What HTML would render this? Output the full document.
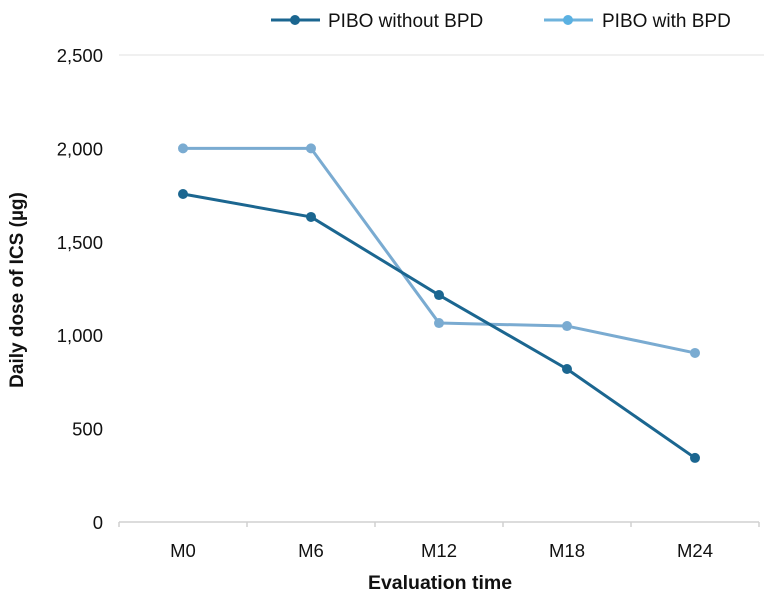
<!DOCTYPE html>
<html><head><meta charset="utf-8"><style>
body{margin:0;background:#fff;font-family:"Liberation Sans",Arial,sans-serif}
</style></head><body>
<svg id="chart" width="764" height="601" viewBox="0 0 764 601" xmlns="http://www.w3.org/2000/svg" font-family="Liberation Sans, Arial, sans-serif">
<g id="legend">
  <g>
    <line x1="271" y1="20" x2="320" y2="20" stroke="#1b6690" stroke-width="3"/>
    <circle cx="295" cy="20" r="5" fill="#1b6690"/>
    <text x="328" y="27" font-size="19" fill="#111">PIBO without BPD</text>
  </g>
  <g>
    <line x1="544" y1="20" x2="593" y2="20" stroke="#6fb3dc" stroke-width="3"/>
    <circle cx="568" cy="20" r="5" fill="#5ab1e2"/>
    <text x="602" y="27" font-size="19" fill="#111">PIBO with BPD</text>
  </g>
</g>
<g id="axes"></g>
<g id="series"></g>
<text transform="translate(23,290) rotate(-90)" text-anchor="middle" font-size="19" font-weight="bold" fill="#111">Daily dose of ICS (µg)</text>
<text x="440" y="589" text-anchor="middle" font-size="19.5" font-weight="bold" fill="#111">Evaluation time</text>
</svg>
<script>
const categories = ["M0","M6","M12","M18","M24"];
const withoutBPD = [1756,1633,1215,819,343];
const withBPD = [2000,2000,1065,1049,905];
const yTicks = [0,500,1000,1500,2000,2500];
const yTickLabels = ["0","500","1,000","1,500","2,000","2,500"];

const ns="http://www.w3.org/2000/svg";
const x0=119, x1=759, y0=522, yTop=55, yMax=2500;
const band=(x1-x0)/categories.length;
function xPos(i){return x0+band*(i+0.5);}
function yPos(v){return y0-(v/yMax)*(y0-yTop);}
function mk(tag,attrs,parent){const e=document.createElementNS(ns,tag);for(const k in attrs)e.setAttribute(k,attrs[k]);parent.appendChild(e);return e;}
const axes=document.getElementById('axes');
yTicks.forEach((t,i)=>{
  const y=yPos(t);
  if(t===yMax){
    const g=mk('line',{x1:x0,x2:764,y1:y,y2:y,stroke:'#e0e0e0','stroke-width':1},axes);
    
    
  }
  const tx=mk('text',{x:103,y:y+7,'text-anchor':'end','font-size':18.5,fill:'#111'},axes);
  tx.textContent=yTickLabels[i];
  
  
});
const base=mk('line',{x1:x0,x2:x1,y1:y0,y2:y0,stroke:'#d0d0d0','stroke-width':1.5},axes);


for(let i=0;i<=categories.length;i++){
  const tk=mk('line',{x1:x0+band*i,x2:x0+band*i,y1:y0,y2:y0+5,stroke:'#d0d0d0','stroke-width':1.5},axes);
  
  
}
categories.forEach((c,i)=>{
  const tx=mk('text',{x:xPos(i),y:557,'text-anchor':'middle','font-size':18.5,fill:'#111'},axes);
  tx.textContent=c;
  
  
});
const series=document.getElementById('series');
function draw(vals,color,dot,name){
  const g=mk('g',{},series);
  
  
  const pl=mk('polyline',{points:vals.map((v,i)=>xPos(i)+','+yPos(v)).join(' '),fill:'none',stroke:color,'stroke-width':3,'stroke-linejoin':'round'},g);
  
  
  vals.forEach((v,i)=>{
    const c=mk('circle',{cx:xPos(i),cy:yPos(v),r:5,fill:dot},g);
    
    
  });
}
draw(withBPD,'#7aabd1','#7aabd1','series-with-bpd');
draw(withoutBPD,'#1b6690','#1b6690','series-without-bpd');
</script>
</body></html>
